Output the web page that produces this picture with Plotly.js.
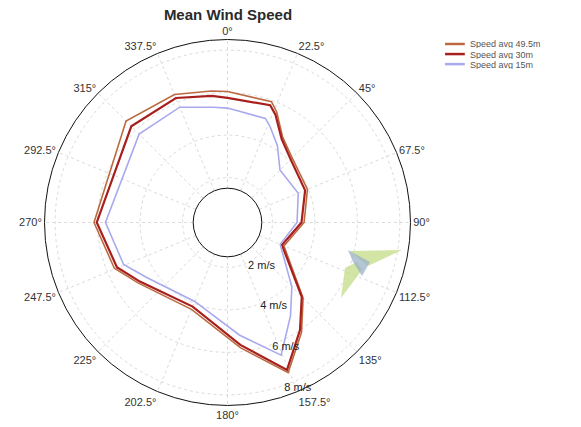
<!DOCTYPE html>
<html>
<head>
<meta charset="utf-8">
<script src="https://cdn.plot.ly/plotly-3.0.1.min.js"></script>
<style>html,body{margin:0;padding:0;background:#fff;}#chart{width:581px;height:427px;}</style>
</head>
<body>
<div id="chart"></div>
<script>
// Wind direction (degrees, clockwise from north)
var directions = [0, 20, 24, 33, 45, 67.5, 90, 112.5, 135, 146, 158, 174, 202.5, 236, 248, 270, 315, 337.5, 353];
// Mean wind speed (m/s) per direction
var speed49 = [6.05, 5.94, 5.58, 4.66, 4.19, 3.96, 3.49, 2.76, 4.92, 6.12, 7.51, 5.82, 4.31, 4.97, 5.63, 6.17, 6.64, 6.41, 6.12];
var speed30 = [5.75, 5.76, 5.44, 4.57, 4.09, 3.84, 3.37, 2.66, 4.83, 5.99, 7.37, 5.68, 4.17, 4.86, 5.50, 6.04, 6.29, 6.23, 5.89];
var speed15 = [5.27, 5.10, 4.82, 4.20, 3.38, 3.49, 3.16, 2.57, 4.17, 5.19, 6.62, 5.21, 3.91, 4.50, 5.16, 5.63, 5.77, 5.76, 5.35];
var seriesNames = ["Speed avg 49.5m", "Speed avg 30m", "Speed avg 15m"];
var seriesColors = ["#bb6a40", "#a8201e", "#a9a9ee"];
var angleTicks = [0, 22.5, 45, 67.5, 90, 112.5, 135, 157.5, 180, 202.5, 225, 247.5, 270, 292.5, 315, 337.5];
var radialTicks = [2, 4, 6, 8];

function closed(a) { return a.concat([a[0]]); }

var allSeries = [speed49, speed30, speed15];
var widths = [1.6, 2.2, 1.6];
var traces = allSeries.map(function (s, i) {
  return {
    type: 'scatterpolar',
    mode: 'lines',
    theta: closed(directions),
    r: closed(s),
    name: seriesNames[i],
    line: { color: seriesColors[i], width: widths[i] },
    showlegend: false,
    hoverinfo: 'skip'
  };
});

// custom compact legend
var legX0 = 0.766, legX1 = 0.800, legTextX = 0.808, legY0 = 0.8970, legDy = 0.0236;
var shapes = [], annotations = [];
seriesNames.forEach(function (n, i) {
  var y = legY0 - i * legDy;
  shapes.push({ type: 'line', xref: 'paper', yref: 'paper', x0: legX0, x1: legX1, y0: y, y1: y,
    line: { color: seriesColors[i], width: 2.5 } });
  annotations.push({ xref: 'paper', yref: 'paper', x: legTextX, y: y, xanchor: 'left', yanchor: 'middle',
    text: n, showarrow: false, borderpad: 0, height: 9,
    font: { family: 'Liberation Sans, Arial, sans-serif', size: 9, color: '#555' } });
});

// small logo decoration
shapes.push({ type: 'path', xref: 'paper', yref: 'paper',
  path: 'M 0.6024 0.4122 L 0.6919 0.4145 L 0.6334 0.3770 Z', fillcolor: '#c3dc86', line: { width: 0 }, opacity: 0.75 });
shapes.push({ type: 'path', xref: 'paper', yref: 'paper',
  path: 'M 0.5869 0.3021 L 0.5938 0.3724 L 0.6145 0.3864 L 0.6231 0.3677 Z', fillcolor: '#c3dc86', line: { width: 0 }, opacity: 0.75 });
shapes.push({ type: 'path', xref: 'paper', yref: 'paper',
  path: 'M 0.5990 0.4145 L 0.6368 0.3864 L 0.6231 0.3536 L 0.6076 0.3864 Z', fillcolor: '#9bb1c6', line: { width: 0 }, opacity: 0.75 });

var layout = {
  width: 581, height: 427,
  margin: { l: 0, r: 0, t: 0, b: 0 },
  paper_bgcolor: '#fff',
  title: { text: '<b>Mean Wind Speed</b>', x: 0.3924, xanchor: 'center', y: 0.965, yanchor: 'middle',
    font: { family: 'Liberation Sans, Arial, sans-serif', size: 15, color: '#2a2a2a' } },
  polar: {
    domain: { x: [0.0766, 0.7065], y: [0.0504, 0.9075] },
    bgcolor: '#fff',
    hole: 0.1875,
    angularaxis: {
      rotation: 90, direction: 'clockwise',
      tickmode: 'array', tickvals: angleTicks,
      ticktext: angleTicks.map(function (a) { return a + '°'; }),
      showline: true, linecolor: '#111', linewidth: 1,
      showgrid: true, gridcolor: '#dadada', griddash: 'dot', gridwidth: 1,
      ticks: '',
      tickfont: { family: 'Liberation Sans, Arial, sans-serif', size: 11, color: '#333' }
    },
    radialaxis: {
      range: [1.5, 8.5],
      angle: -73.5,
      tickangle: -73.5,
      side: 'counterclockwise',
      tickmode: 'array', tickvals: radialTicks,
      ticktext: radialTicks.map(function (v) { return v + ' m/s'; }),
      showline: false, ticks: '',
      showgrid: true, gridcolor: '#dadada', griddash: 'dot', gridwidth: 1,
      tickfont: { family: 'Liberation Sans, Arial, sans-serif', size: 11, color: '#222' }
    }
  },
  shapes: shapes,
  annotations: annotations,
  showlegend: false
};

Plotly.newPlot('chart', traces, layout, { displayModeBar: false, staticPlot: true });
</script>
</body>
</html>
